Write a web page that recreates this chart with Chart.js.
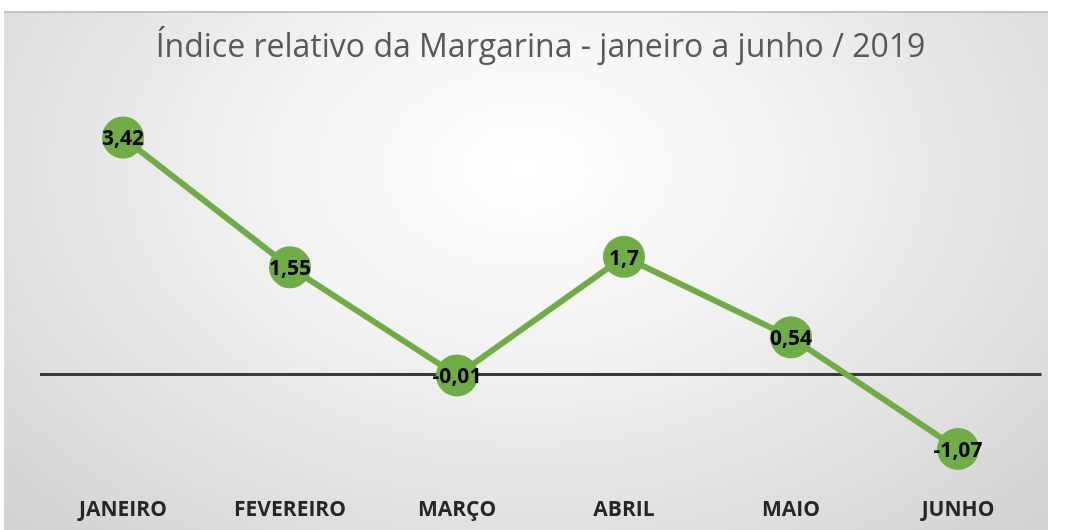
<!DOCTYPE html>
<html lang="pt">
<head>
  <meta charset="UTF-8">
  <title>Índice relativo da Margarina</title>
  <script src="https://cdn.jsdelivr.net/npm/chart.js"></script>
  <style>
    html, body {
      margin: 0;
      padding: 0;
      background: #ffffff;
    }
    #frame {
      position: absolute;
      left: 4px;
      top: 11px;
      width: 1044px;
      height: 519px;
      border-top: 2px solid #c4c4c4;
      box-sizing: border-box;
      background: radial-gradient(ellipse at 50% 30%, #ffffff 0%, #f3f3f3 35%, #d2d2d2 100%);
    }
    canvas { display: block; }
  </style>
</head>
<body>

  <div id="frame">
    <canvas id="margChart" width="1044" height="517"></canvas>
  </div>

  <script>
    const meses = ['JANEIRO', 'FEVEREIRO', 'MARÇO', 'ABRIL', 'MAIO', 'JUNHO'];
    const indice = [3.42, 1.55, -0.01, 1.7, 0.54, -1.07];
    const rotulos = ['3,42', '1,55', '-0,01', '1,7', '0,54', '-1,07'];

    // rótulos de dados no centro de cada ponto
    const rotuloPlugin = {
      id: 'rotulos',
      afterDatasetsDraw(chart) {
        const ctx = chart.ctx;
        const meta = chart.getDatasetMeta(0);
        ctx.save();
        ctx.font = 'bold 21px "Open Sans", sans-serif';
        ctx.fillStyle = '#000000';
        ctx.textAlign = 'center';
        ctx.textBaseline = 'middle';
        meta.data.forEach((pt, i) => {
          ctx.fillText(rotulos[i], pt.x, pt.y + 2);
        });
        ctx.restore();
      }
    };

    const ctx = document.getElementById('margChart').getContext('2d');
    new Chart(ctx, {
      type: 'line',
      data: {
        labels: meses,
        datasets: [{
          data: indice,
          borderColor: '#70ad47',
          backgroundColor: '#70ad47',
          borderWidth: 6,
          pointRadius: 21,
          pointHoverRadius: 21,
          pointBackgroundColor: '#70ad47',
          pointBorderColor: '#70ad47',
          pointBorderWidth: 0,
          tension: 0,
          fill: false
        }]
      },
      plugins: [rotuloPlugin],
      options: {
        responsive: false,
        animation: false,
        layout: {
          autoPadding: false,
          padding: { left: 35.5, right: 6.5, top: 0, bottom: -3 }
        },
        plugins: {
          legend: { display: false },
          tooltip: { enabled: false },
          title: {
            display: true,
            text: 'Índice relativo da Margarina - janeiro a junho / 2019',
            color: '#595959',
            font: { family: '"Open Sans", sans-serif', size: 32, weight: 'normal' },
            padding: { top: 16, bottom: 16 }
          }
        },
        scales: {
          x: {
            offset: true,
            grid: { display: false },
            border: { display: false },
            afterFit: s => { s.paddingLeft = 0; s.paddingRight = 0; },
            ticks: {
              color: '#262626',
              padding: 10.5,
              font: { family: '"Open Sans", sans-serif', size: 21, weight: 'bold' }
            }
          },
          y: {
            min: -1.5,
            max: 4.2,
            border: { display: false },
            afterFit: s => { s.width = 0; },
            ticks: { display: false, stepSize: 0.5 },
            grid: {
              drawTicks: false,
              lineWidth: 3,
              color: c => c.tick && c.tick.value === 0 ? '#3a3a3a' : 'rgba(0,0,0,0)'
            }
          }
        }
      }
    });
  </script>

</body>
</html>
